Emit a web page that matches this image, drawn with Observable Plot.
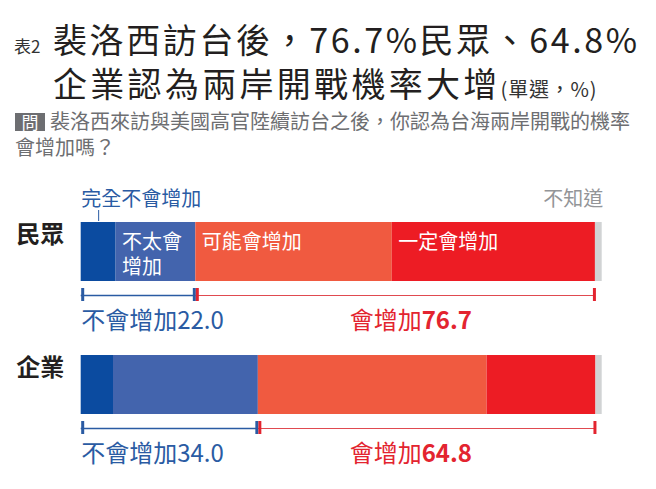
<!DOCTYPE html>
<html><head><meta charset="utf-8">
<script src="https://cdn.jsdelivr.net/npm/d3@7"></script>
<script src="https://cdn.jsdelivr.net/npm/@observablehq/plot@0.6"></script>
<style>
body{margin:0;background:#fff;}
#root{position:relative;width:656px;height:489px;overflow:hidden;font-family:'Noto Sans CJK TC','Noto Sans CJK SC',sans-serif;background:#fff;}
.t{position:absolute;white-space:nowrap;line-height:1;}
#pre{left:14px;top:37px;font-size:17px;color:#333;}
#title{left:53px;top:17px;font-size:34px;line-height:44px;color:#231f20;letter-spacing:2.6px;}
#title .l2{letter-spacing:3.3px;}
#title .u{font-size:20px;letter-spacing:0.8px;color:#333;}
#qbox{left:15px;top:113px;width:30px;height:18px;background:#6d6e71;color:#fff;font-size:17px;line-height:18px;text-align:center;}
#q{left:15px;top:108px;font-size:20px;line-height:26px;color:#6d6e71;text-indent:35px;}
#chart{position:absolute;left:0;top:165px;}
</style></head>
<body>
<div id="root">
  <div class="t" id="pre">表2</div>
  <div class="t" id="title">裴洛西訪台後，76.7%民眾、64.8%<br><span class="l2">企業認為兩岸開戰機率大增</span><span class="u">(單選，%)</span></div>
  <div class="t" id="qbox">問</div>
  <div class="t" id="q">裴洛西來訪與美國高官陸續訪台之後，你認為台海兩岸開戰的機率<br>會增加嗎？</div>
  <div id="chart"></div>
</div>
<script>
const groups = ["民眾", "企業"];
const categories = ["完全不會增加", "不太會增加", "可能會增加", "一定會增加", "不知道"];
const publicValues = [6.7, 15.3, 37.7, 39.0, 1.3];
const businessValues = [6.2, 27.8, 43.9, 20.9, 1.2];
const notIncreaseTotals = [22.0, 34.0];
const increaseTotals = [76.7, 64.8];
const inBarLabels = ["", "不太會\n增加", "可能會增加", "一定會增加", ""];
const colors = ["#0b4ba0", "#4364ad", "#f05a40", "#ed1c24", "#d1d3d4"];

const blue = "#2a5ba3", red = "#e3242f", redLine = "#e04a50";

const rows = [];
[publicValues, businessValues].forEach((vals, gi) =>
  vals.forEach((v, ci) => rows.push({group: groups[gi], category: categories[ci], value: v, label: gi === 0 ? inBarLabels[ci] : ""}))
);
const brackets = groups.map((g, i) => ({
  group: g,
  start: 0,
  notInc: notIncreaseTotals[i],
  end: notIncreaseTotals[i] + increaseTotals[i],
  notText: "不會增加" + notIncreaseTotals[i].toFixed(1),
  incWord: "會增加",
  incText: increaseTotals[i].toFixed(1)
}));
const leader = [{group: groups[0], x: publicValues[0] / 2}];

const stackOpts = {x: "value", y: "group", z: "category", order: categories};

const chart = Plot.plot({
  width: 656,
  height: 324,
  marginLeft: 80.7,
  marginRight: 54.3,
  marginTop: 0,
  marginBottom: 0,
  style: {fontFamily: "'Noto Sans CJK TC','Noto Sans CJK SC',sans-serif", background: "transparent"},
  x: {domain: [0, 100], range: [80.7, 601.7], axis: null},
  y: {domain: groups, range: [57, 249], paddingInner: 0.5564, paddingOuter: 0, axis: null, label: null},
  color: {domain: categories, range: colors},
  marks: [
    Plot.barX(rows, Plot.stackX({...stackOpts, fill: "category"})),
    Plot.text(rows, Plot.stackX1({...stackOpts, text: "label", textAnchor: "start", lineAnchor: "top", lineHeight: 1.25, dx: 6, dy: -21, fill: "white", fontSize: 20})),
    Plot.text(rows, Plot.stackX1({...stackOpts, text: d => d.group === groups[0] && d.category === categories[0] ? d.category : null, textAnchor: "start", dy: -52, fill: blue, fontSize: 20})),
    Plot.text(rows, Plot.stackX2({...stackOpts, text: d => d.group === groups[0] && d.category === categories[4] ? d.category : null, textAnchor: "end", dy: -52, dx: 1, fill: "#939598", fontSize: 20})),
    Plot.ruleX(leader, {x: "x", y1: "group", y2: "group", dy: -12, insetBottom: 48, stroke: blue, strokeWidth: 1}),
    // group labels
    Plot.text(groups, {y: d => d, text: d => d, frameAnchor: "left", textAnchor: "end", dx: -17, dy: -17, fontSize: 24, fontWeight: "bold", fill: "#231f20"}),
    // brackets
    Plot.ruleY(brackets, {y: "group", x1: "start", x2: "notInc", dy: 43.5, stroke: blue, strokeWidth: 1.5}),
    Plot.ruleY(brackets, {y: "group", x1: "notInc", x2: "end", dy: 43.5, stroke: redLine, strokeWidth: 1.2}),
    Plot.ruleX(brackets, {x: "start", y1: "group", y2: "group", dy: 66, insetBottom: 46, dx: 1.5, stroke: blue, strokeWidth: 3}),
    Plot.ruleX(brackets, {x: "notInc", y1: "group", y2: "group", dy: 66, insetBottom: 46, dx: -1.5, stroke: blue, strokeWidth: 3}),
    Plot.ruleX(brackets, {x: "notInc", y1: "group", y2: "group", dy: 66, insetBottom: 46, dx: 1.5, stroke: red, strokeWidth: 3}),
    Plot.ruleX(brackets, {x: "end", y1: "group", y2: "group", dy: 66, insetBottom: 46, dx: -1, stroke: red, strokeWidth: 3}),
    Plot.text(brackets, {x: "start", y: "group", text: "notText", textAnchor: "start", dy: 69.5, fontSize: 24, fill: blue}),
    Plot.text(brackets, {y: "group", frameAnchor: "middle", text: "incWord", textAnchor: "start", dx: 8, dy: 69.5, fontSize: 24, fill: red}),
    Plot.text(brackets, {y: "group", frameAnchor: "middle", text: "incText", textAnchor: "start", dx: 80, dy: 69.5, fontSize: 24, fontWeight: "bold", fill: red})
  ]
});
document.getElementById("chart").appendChild(chart);
</script>
</body></html>
